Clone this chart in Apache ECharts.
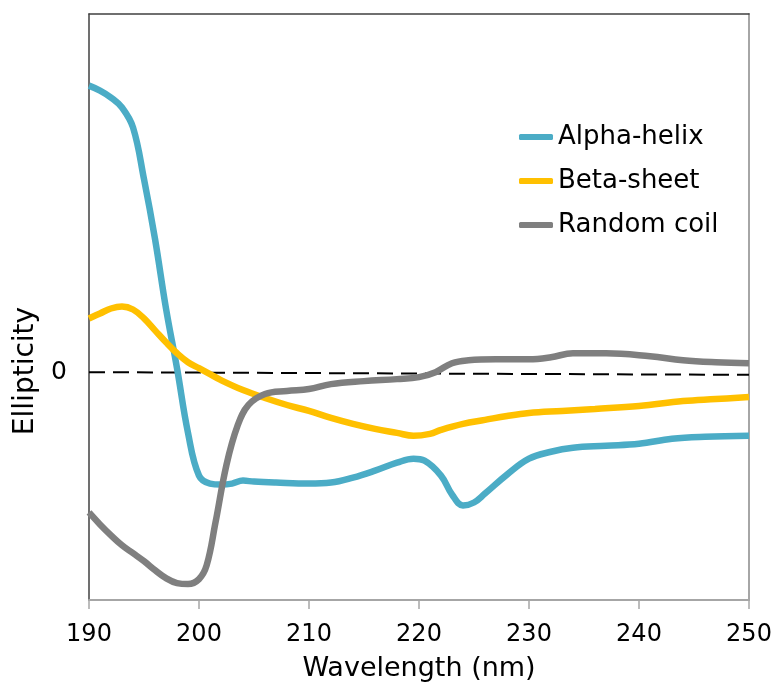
<!DOCTYPE html>
<html lang="en">
<head>
    <meta charset="utf-8">
    <title>CD spectra</title>
    <script src="https://cdn.jsdelivr.net/npm/echarts@6/dist/echarts.min.js"></script>
    <style>
        html, body { margin: 0; padding: 0; background: #fff; }
        #main { width: 775px; height: 687px; }
    </style>
</head>
<body>
<div id="main"></div>
<script type="text/javascript">
    // wavelength (nm) / ellipticity (arbitrary units, 0 = baseline)
    var helixX = [190, 191, 192, 193, 194, 195, 196, 197, 198, 199, 200, 201, 202, 203, 204, 205, 207, 210, 212, 214, 216, 218, 219.5, 220.5, 222, 223, 224, 225, 226, 228, 230, 232, 234, 237, 240, 243, 246, 250];
    var helixY = [28.8, 28.3, 27.6, 26.6, 24.6, 19.4, 13.4, 6.4, 0.4, -6.1, -10.4, -11.2, -11.3, -11.2, -10.9, -11.0, -11.1, -11.2, -11.1, -10.6, -9.9, -9.1, -8.7, -8.9, -10.4, -12.3, -13.4, -13.1, -12.2, -10.3, -8.7, -8.0, -7.6, -7.4, -7.2, -6.7, -6.5, -6.4];

    var sheetX = [190, 191, 192, 193, 194, 195, 196, 197, 198, 199, 200, 201, 202, 204, 206, 208, 210, 212, 214, 216, 218, 219.5, 221, 222, 224, 226, 228, 230, 233, 236, 240, 244, 247, 250];
    var sheetY = [5.4, 5.9, 6.4, 6.6, 6.3, 5.4, 4.2, 3.0, 1.9, 1.0, 0.4, -0.2, -0.8, -1.8, -2.6, -3.3, -3.9, -4.6, -5.2, -5.7, -6.1, -6.4, -6.2, -5.8, -5.2, -4.8, -4.4, -4.1, -3.9, -3.7, -3.4, -2.9, -2.7, -2.5];

    var coilX = [190, 191, 192, 193, 194, 195, 196, 197, 198, 199, 200, 200.7, 201.5, 202.5, 203.5, 204.5, 206, 208, 210, 212, 215, 218, 220, 221.5, 223, 224.5, 227, 230, 232, 234, 237, 241, 244, 247, 250];
    var coilY = [-14.1, -15.3, -16.4, -17.4, -18.2, -19.0, -19.9, -20.7, -21.2, -21.3, -20.8, -19.4, -15.1, -9.3, -5.4, -3.3, -2.2, -1.9, -1.7, -1.2, -0.9, -0.7, -0.5, 0, 0.9, 1.2, 1.3, 1.3, 1.5, 1.9, 1.9, 1.6, 1.2, 1.0, 0.9];

    var baseX = [190, 250];
    var baseY = [0, -0.27];

    var xTicks = [190, 200, 210, 220, 230, 240, 250];

    function pairs(xs, ys) {
        return xs.map(function (x, i) { return [x, ys[i]]; });
    }

    var font = '"DejaVu Sans", sans-serif';
    var chart = echarts.init(document.getElementById('main'));

    function curve(name, xs, ys, color) {
        return {
            name: name,
            type: 'line',
            data: pairs(xs, ys),
            smooth: 0.4,
            symbol: 'none',
            itemStyle: { color: color },
            lineStyle: { color: color, width: 6.5 }
        };
    }

    chart.setOption({
        animation: false,
        grid: { left: 89, right: 26, top: 14, bottom: 84 },
        legend: {
            data: ['Alpha-helix', 'Beta-sheet', 'Random coil'],
            orient: 'vertical',
            left: 519,
            top: 124,
            padding: 0,
            icon: 'roundRect',
            itemWidth: 34,
            itemHeight: 6,
            itemGap: 18,
            textStyle: { fontFamily: font, fontSize: 26, color: '#000', lineHeight: 24 }
        },
        xAxis: [{
            type: 'value',
            min: 190,
            max: 250,
            interval: 10,
            name: 'Wavelength (nm)',
            nameLocation: 'middle',
            nameGap: 55,
            nameTextStyle: { fontFamily: font, fontSize: 27, color: '#000' },
            axisLine: { onZero: false, lineStyle: { color: '#a6a6a6', width: 2 } },
            axisTick: { show: true, length: 9, lineStyle: { color: '#a6a6a6', width: 1.5 } },
            axisLabel: {
                fontFamily: font, fontSize: 24, color: '#000', margin: 23,
                formatter: function (v) { return xTicks.indexOf(v) >= 0 ? String(v) : ''; }
            },
            splitLine: { show: false }
        }, {
            type: 'value',
            position: 'top',
            min: 190,
            max: 250,
            axisLine: { show: true, onZero: false, lineStyle: { color: '#404040', width: 1.5 } },
            axisTick: { show: false },
            axisLabel: { show: false },
            splitLine: { show: false }
        }],
        yAxis: [{
            type: 'value',
            min: -22.9,
            max: 36,
            interval: 22.9,
            name: 'Ellipticity',
            nameLocation: 'middle',
            nameGap: 47,
            nameTextStyle: { fontFamily: font, fontSize: 28, color: '#000', padding: [0, 128, 0, 0] },
            axisLine: { show: true, onZero: false, lineStyle: { color: '#404040', width: 1.5 } },
            axisTick: { show: false },
            axisLabel: {
                fontFamily: font, fontSize: 25, color: '#000', margin: 22,
                showMinLabel: false, showMaxLabel: false,
                formatter: function (v) { return v === 0 ? '0' : ''; }
            },
            splitLine: { show: false }
        }, {
            type: 'value',
            position: 'right',
            min: -22.9,
            max: 36,
            axisLine: { show: true, onZero: false, lineStyle: { color: '#a6a6a6', width: 2 } },
            axisTick: { show: false },
            axisLabel: { show: false },
            splitLine: { show: false }
        }],
        series: [{
            name: 'baseline',
            type: 'line',
            data: pairs(baseX, baseY),
            symbol: 'none',
            silent: true,
            lineStyle: { color: '#000', width: 2, type: [16, 8] }
        },
            curve('Alpha-helix', helixX, helixY, '#4bacc6'),
            curve('Beta-sheet', sheetX, sheetY, '#ffc000'),
            curve('Random coil', coilX, coilY, '#7f7f7f')
        ]
    });
</script>
</body>
</html>
